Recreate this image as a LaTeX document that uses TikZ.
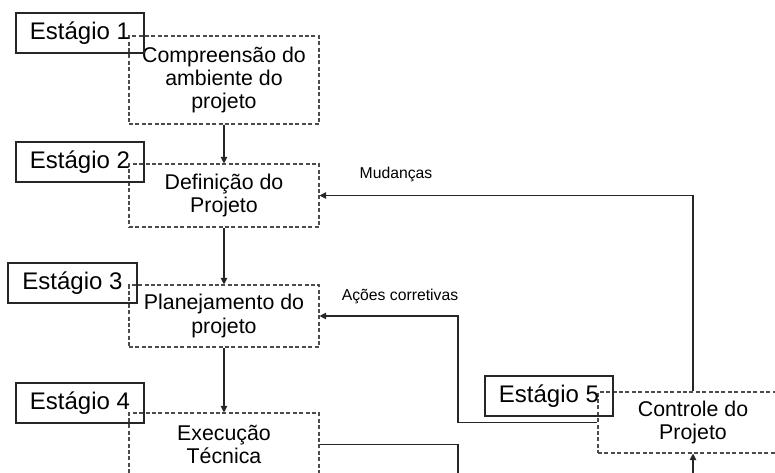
\documentclass[tikz,border=0pt]{standalone}
\usepackage{fontspec}
\setmainfont{Liberation Sans}
\usetikzlibrary{arrows.meta}
\begin{document}
\begin{tikzpicture}[x=0.75pt,y=-0.75pt,
  stagebox/.style={draw=black!85,line width=0.8pt,inner sep=0pt,minimum width=96pt,minimum height=30pt,font=\fontsize{18}{20}\selectfont},
  phasebox/.style={draw=black!70,line width=0.8pt,dash pattern=on 3pt off 1.8pt,inner sep=0pt,minimum width=142.5pt,align=center,font=\fontsize{16}{17.5}\selectfont},
  lbl/.style={inner sep=0pt,font=\fontsize{11.8}{13}\selectfont},
  conn/.style={draw=black!85,line width=0.8pt},
  arr/.style={conn,-{Triangle[length=5pt,width=5pt]}}]
\useasboundingbox (0,0) rectangle (775,473);
\clip (0,0) rectangle (775,473);
% phase boxes
\node[phasebox,minimum height=66pt] (c1) at (224,80) {Compreensão do\\ambiente do\\projeto};
\node[phasebox,minimum height=47.25pt] (c2) at (224,195.5) {Definição do\\Projeto};
\node[phasebox,minimum height=46.5pt] (c3) at (224,316) {Planejamento do\\projeto};
\node[phasebox,minimum height=47.25pt] (c4) at (224,444.5) {Execução\\Técnica};
\node[phasebox,minimum height=45.75pt] (c5) at (693,422.5) {Controle do\\Projeto};
% stage labels
\node[stagebox] (e1) at (80,33) {Estágio 1};
\node[stagebox] (e2) at (80,162) {Estágio 2};
\node[stagebox,minimum width=96.75pt] (e3) at (72.5,283) {Estágio 3};
\node[stagebox] (e4) at (80,403) {Estágio 4};
\node[stagebox] (e5) at (549,396) {Estágio 5};
% labels
\node[lbl] (lm) at (396,174) {Mudanças};
\node[lbl] (la) at (400,296) {Ações corretivas};
% connectors
\draw[arr] (c1.south) -- (c2.north);
\draw[arr] (c2.south) -- (c3.north);
\draw[arr] (c3.south) -- (c4.north);
\draw[arr] (c5.north) |- (c2.east);
\coordinate (k1) at (458,330);
\draw[arr] (c5.west) -| (k1) |- (c3.east);
\coordinate (k2) at (458,500);
\draw[arr] (c4.east) -| (k2) -| (c5.south);
\end{tikzpicture}
\end{document}
